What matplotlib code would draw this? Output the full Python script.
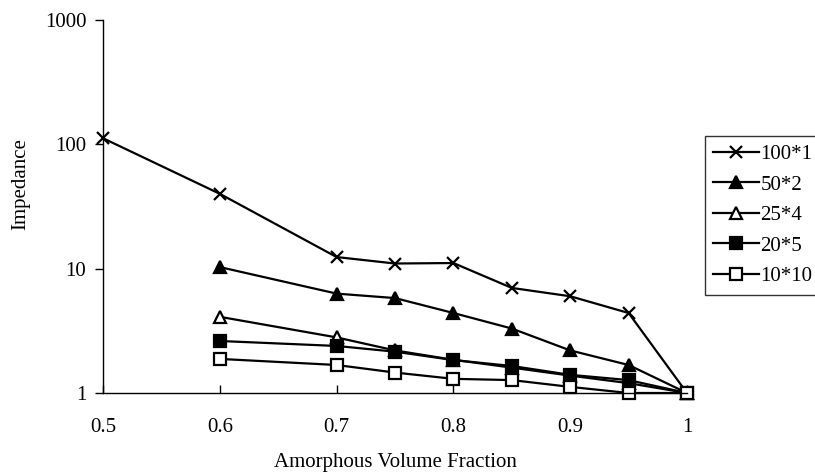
import matplotlib
matplotlib.use("Agg")
import matplotlib.pyplot as plt

x = [0.5, 0.6, 0.7, 0.75, 0.8, 0.85, 0.9, 0.95, 1.0]
s100x1 = [112, 40, 12.4, 11.0, 11.1, 7.0, 6.0, 4.4, 1.0]
s50x2 = [10.3, 6.3, 5.8, 4.4, 3.3, 2.2, 1.68, 1.0]
s25x4 = [4.1, 2.8, 2.2, 1.85, 1.6, 1.38, 1.2, 1.0]
s20x5 = [2.62, 2.39, 2.15, 1.84, 1.65, 1.40, 1.27, 1.0]
s10x10 = [1.88, 1.68, 1.46, 1.30, 1.27, 1.12, 1.0, 1.0]
labels = ["100*1", "50*2", "25*4", "20*5", "10*10"]
xticks = [0.5, 0.6, 0.7, 0.8, 0.9, 1.0]
xticklabels = ["0.5", "0.6", "0.7", "0.8", "0.9", "1"]
yticks = [1, 10, 100, 1000]
yticklabels = ["1", "10", "100", "1000"]

plt.rcParams['font.family'] = ['Liberation Serif', 'DejaVu Serif']

W, H = 815, 475
fig = plt.figure(figsize=(W / 100, H / 100), dpi=100)
ax = fig.add_axes([103 / W, 1 - 393 / H, (687 - 103) / W, (393 - 20) / H])

base = dict(color='black', lw=1.6, markeredgewidth=1.6, clip_on=False)
ax.plot(x, s100x1, marker='x', markersize=9, label=labels[0], **base)
ax.plot(x[1:], s50x2, marker='^', markersize=9, markerfacecolor='black', label=labels[1], **base)
ax.plot(x[1:], s25x4, marker='^', markersize=9, markerfacecolor='white', label=labels[2], **base)
ax.plot(x[1:], s20x5, marker='s', markersize=8.5, markerfacecolor='black', label=labels[3], **base)
ax.plot(x[1:], s10x10, marker='s', markersize=8.5, markerfacecolor='white', label=labels[4], **base)

ax.set_yscale('log')
ax.set_ylim(1, 1000)
ax.set_xlim(0.5, 1.0)
ax.set_xticks(xticks)
ax.set_xticklabels(xticklabels)
ax.set_yticks(yticks)
ax.set_yticklabels(yticklabels)
ax.yaxis.set_minor_locator(matplotlib.ticker.NullLocator())
ax.tick_params(axis='x', direction='in', length=6, width=1, pad=18, labelsize=15)
ax.tick_params(axis='y', direction='out', length=6, width=1, pad=6, labelsize=15)
for s in ['top', 'right']:
    ax.spines[s].set_visible(False)
for s in ['left', 'bottom']:
    ax.spines[s].set_linewidth(1)

fig.text(395 / W, 1 - 462 / H, "Amorphous Volume Fraction", ha='center', va='center', fontsize=15)
fig.text(21 / W, 1 - 184 / H, "Impedance", ha='center', va='center', rotation=90, fontsize=15)

leg = ax.legend(loc='upper left', bbox_to_anchor=(705 / W, 1 - 136 / H),
                bbox_transform=fig.transFigure, borderaxespad=0, frameon=True,
                fancybox=False, edgecolor='black', fontsize=15, handlelength=2.2,
                handletextpad=0.05, labelspacing=0.53, borderpad=0.4)
leg.get_frame().set_linewidth(1)

fig.savefig("out.png", dpi=100)
